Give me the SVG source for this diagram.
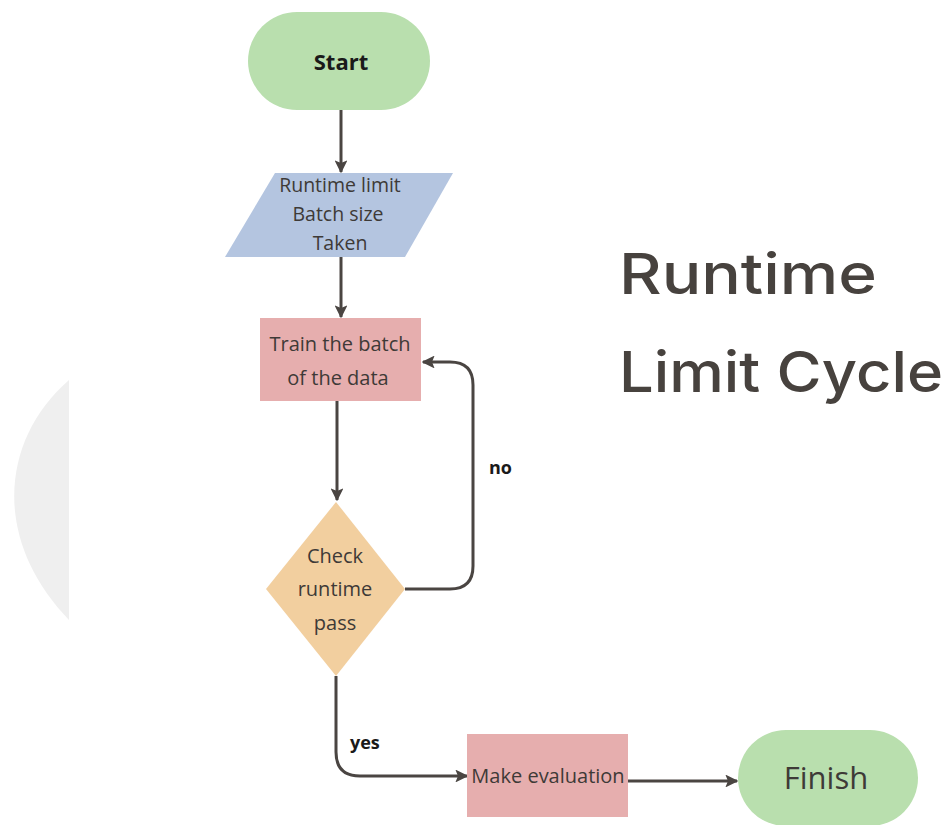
<svg xmlns="http://www.w3.org/2000/svg" width="948" height="825" viewBox="0 0 948 825">
  <defs>
    <marker id="arrow" viewBox="0 0 10 10" refX="9" refY="5" markerWidth="4.3" markerHeight="4.3" orient="auto" markerUnits="strokeWidth">
      <path d="M0,0 L10,5 L0,10 L2,5 Z" fill="#4a4542"/>
    </marker>
    <style>
      .edge { fill: none; stroke: #4a4542; stroke-width: 3; marker-end: url(#arrow); }
      .lbl { font-family: "Open Sans", "Noto Sans", sans-serif; fill: #3e3a37; text-anchor: middle; }
      .bold { font-family: "Open Sans", "Noto Sans", sans-serif; font-weight: 700; fill: #1a1a1a; }
      .title { font-family: "Inter", "Noto Sans", sans-serif; font-weight: 500; fill: #47423e; font-size: 56px; }
    </style>
  </defs>

  <rect width="948" height="825" fill="#ffffff"/>

  <!-- decorative grey arc on the left edge -->
  <path d="M69,380 C 0,440 -8,540 69,620 Z" fill="#efefef"/>

  <!-- title -->
  <text class="title" x="619" y="294" textLength="258" lengthAdjust="spacingAndGlyphs">Runtime</text>
  <text class="title" x="619" y="392" textLength="324" lengthAdjust="spacingAndGlyphs">Limit Cycle</text>

  <g id="connectors">
    <path class="edge" d="M341,110 L341,172"/>
    <path class="edge" d="M341,257 L341,317"/>
    <path class="edge" d="M337,401 L337,500"/>
    <path class="edge" d="M405,589 L450,589 Q473,589 473,566 L473,385 Q473,362 450,362 L423,362"/>
    <path class="edge" d="M336,676 L336,752 Q336,776 360,776 L467,776"/>
    <path class="edge" d="M628,781 L737,781"/>
    <text class="bold" x="489" y="474" font-size="18">no</text>
    <text class="bold" x="350" y="749" font-size="18">yes</text>
  </g>

  <g id="start">
    <rect x="248" y="12" width="182" height="98" rx="49" fill="#b9dfae"/>
    <text class="bold" x="341" y="70" font-size="22" text-anchor="middle">Start</text>
  </g>

  <g id="inputs">
    <polygon points="275,173 453,173 405,257 225,257" fill="#b4c5e0"/>
    <text class="lbl" x="340" y="192" font-size="19.5">Runtime limit</text>
    <text class="lbl" x="338" y="221" font-size="19.5">Batch size</text>
    <text class="lbl" x="340" y="250" font-size="19.5">Taken</text>
  </g>

  <g id="train">
    <rect x="260" y="318" width="161" height="83" fill="#e6aeae"/>
    <text class="lbl" x="340" y="351" font-size="20">Train the batch</text>
    <text class="lbl" x="338" y="385" font-size="20">of the data</text>
  </g>

  <g id="check">
    <polygon points="336,502 405,589 336,676 266,589" fill="#f2cf9f"/>
    <text class="lbl" x="335" y="563" font-size="20">Check</text>
    <text class="lbl" x="335" y="596" font-size="20">runtime</text>
    <text class="lbl" x="335" y="630" font-size="20">pass</text>
  </g>

  <g id="evaluate">
    <rect x="467" y="734" width="161" height="83" fill="#e6aeae"/>
    <text class="lbl" x="548" y="783" font-size="20">Make evaluation</text>
  </g>

  <g id="finish">
    <rect x="738" y="730" width="180" height="96" rx="48" fill="#b9dfae"/>
    <text class="lbl" x="826" y="789" font-size="31">Finish</text>
  </g>
</svg>
